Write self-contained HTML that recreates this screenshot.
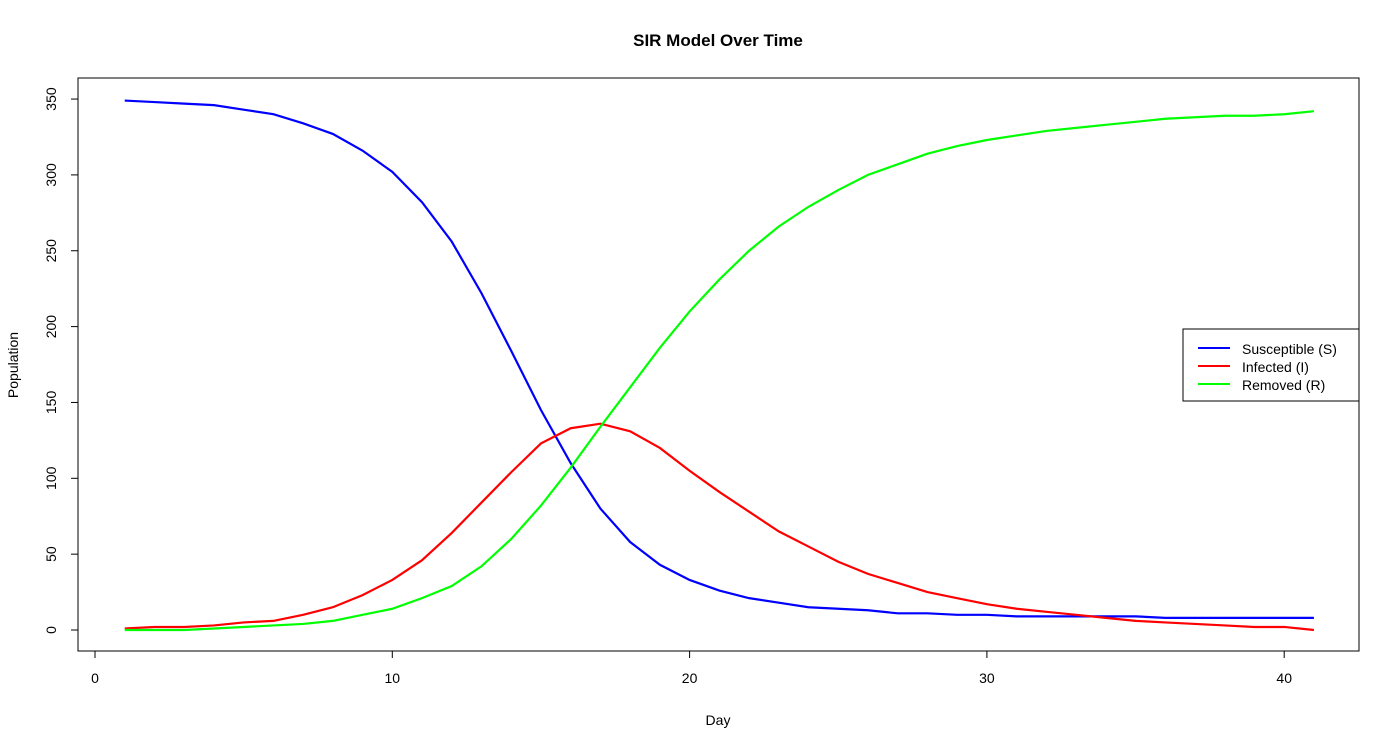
<!DOCTYPE html>
<html><head><meta charset="utf-8"><style>
body{margin:0;background:#fff}
svg{font-family:"Liberation Sans",Arial,sans-serif}
</style></head><body>
<svg id="chart" width="1400" height="750">
<text x="718" y="46" text-anchor="middle" font-size="17" font-weight="bold">SIR Model Over Time</text>
<rect x="78" y="78" width="1281" height="573" fill="none" stroke="#000"/>
<g id="xaxis"></g>
<g id="yaxis"></g>
<text x="718" y="725" text-anchor="middle" font-size="14">Day</text>
<text transform="translate(18,365) rotate(-90)" text-anchor="middle" font-size="14">Population</text>
<g id="series"></g>
<g>
<rect x="1183" y="329" width="176" height="72" fill="#fff" stroke="#000"/>
<line x1="1198" y1="348" x2="1230" y2="348" stroke="#0000ff" stroke-width="2"/>
<text x="1242" y="354" font-size="14">Susceptible (S)</text>
<line x1="1198" y1="366" x2="1230" y2="366" stroke="#ff0000" stroke-width="2"/>
<text x="1242" y="372" font-size="14">Infected (I)</text>
<line x1="1198" y1="384" x2="1230" y2="384" stroke="#00ff00" stroke-width="2"/>
<text x="1242" y="390" font-size="14">Removed (R)</text>
</g>
</svg>
<script>
const days = Array.from({length:41},(_,i)=>i+1);
const susceptible = [349,348,347,346,343,340,334,327,316,302,282,256,222,184,145,110,80,58,43,33,26,21,18,15,14,13,11,11,10,10,9,9,9,9,9,8,8,8,8,8,8];
const infected = [1,2,2,3,5,6,10,15,23,33,46,64,84,104,123,133,136,131,120,105,91,78,65,55,45,37,31,25,21,17,14,12,10,8,6,5,4,3,2,2,0];
const removed = [0,0,0,1,2,3,4,6,10,14,21,29,42,60,82,107,134,160,186,210,231,250,266,279,290,300,307,314,319,323,326,329,331,333,335,337,338,339,339,340,342];
const xTicks = [0,10,20,30,40];
const yTicks = [0,50,100,150,200,250,300,350];

const NS="http://www.w3.org/2000/svg";
function xs(d){return 95 + d*29.73;}
function ys(v){return 630 - v*1.517;}
function mk(tag,attrs,parent){const e=document.createElementNS(NS,tag);for(const k in attrs)e.setAttribute(k,attrs[k]);parent.appendChild(e);return e;}

const xg=document.getElementById('xaxis');
const l1=mk('line',{x1:xs(0),y1:651,x2:xs(40),y2:651,stroke:'#000'},xg);


xTicks.forEach(t=>{
  const tk=mk('line',{x1:xs(t),y1:651,x2:xs(t),y2:658,stroke:'#000'},xg);
  
  
  const tx=mk('text',{x:xs(t),y:683,'text-anchor':'middle','font-size':14},xg);
  tx.textContent=t;
  
  
});
const yg=document.getElementById('yaxis');
const l2=mk('line',{x1:78,y1:ys(0),x2:78,y2:ys(350),stroke:'#000'},yg);


yTicks.forEach(t=>{
  const tk=mk('line',{x1:71,y1:ys(t),x2:78,y2:ys(t),stroke:'#000'},yg);
  
  
  const tx=mk('text',{transform:`translate(56,${ys(t)}) rotate(-90)`,'text-anchor':'middle','font-size':14},yg);
  tx.textContent=t;
  
  
});
const sg=document.getElementById('series');
[[susceptible,'#0000ff','line-susceptible'],[infected,'#ff0000','line-infected'],[removed,'#00ff00','line-removed']].forEach(([arr,c,n])=>{
  const pts=arr.map((v,i)=>xs(days[i])+','+ys(v)).join(' ');
  const p=mk('polyline',{points:pts,fill:'none',stroke:c,'stroke-width':2.2},sg);
  
  
});
</script>
</body></html>
